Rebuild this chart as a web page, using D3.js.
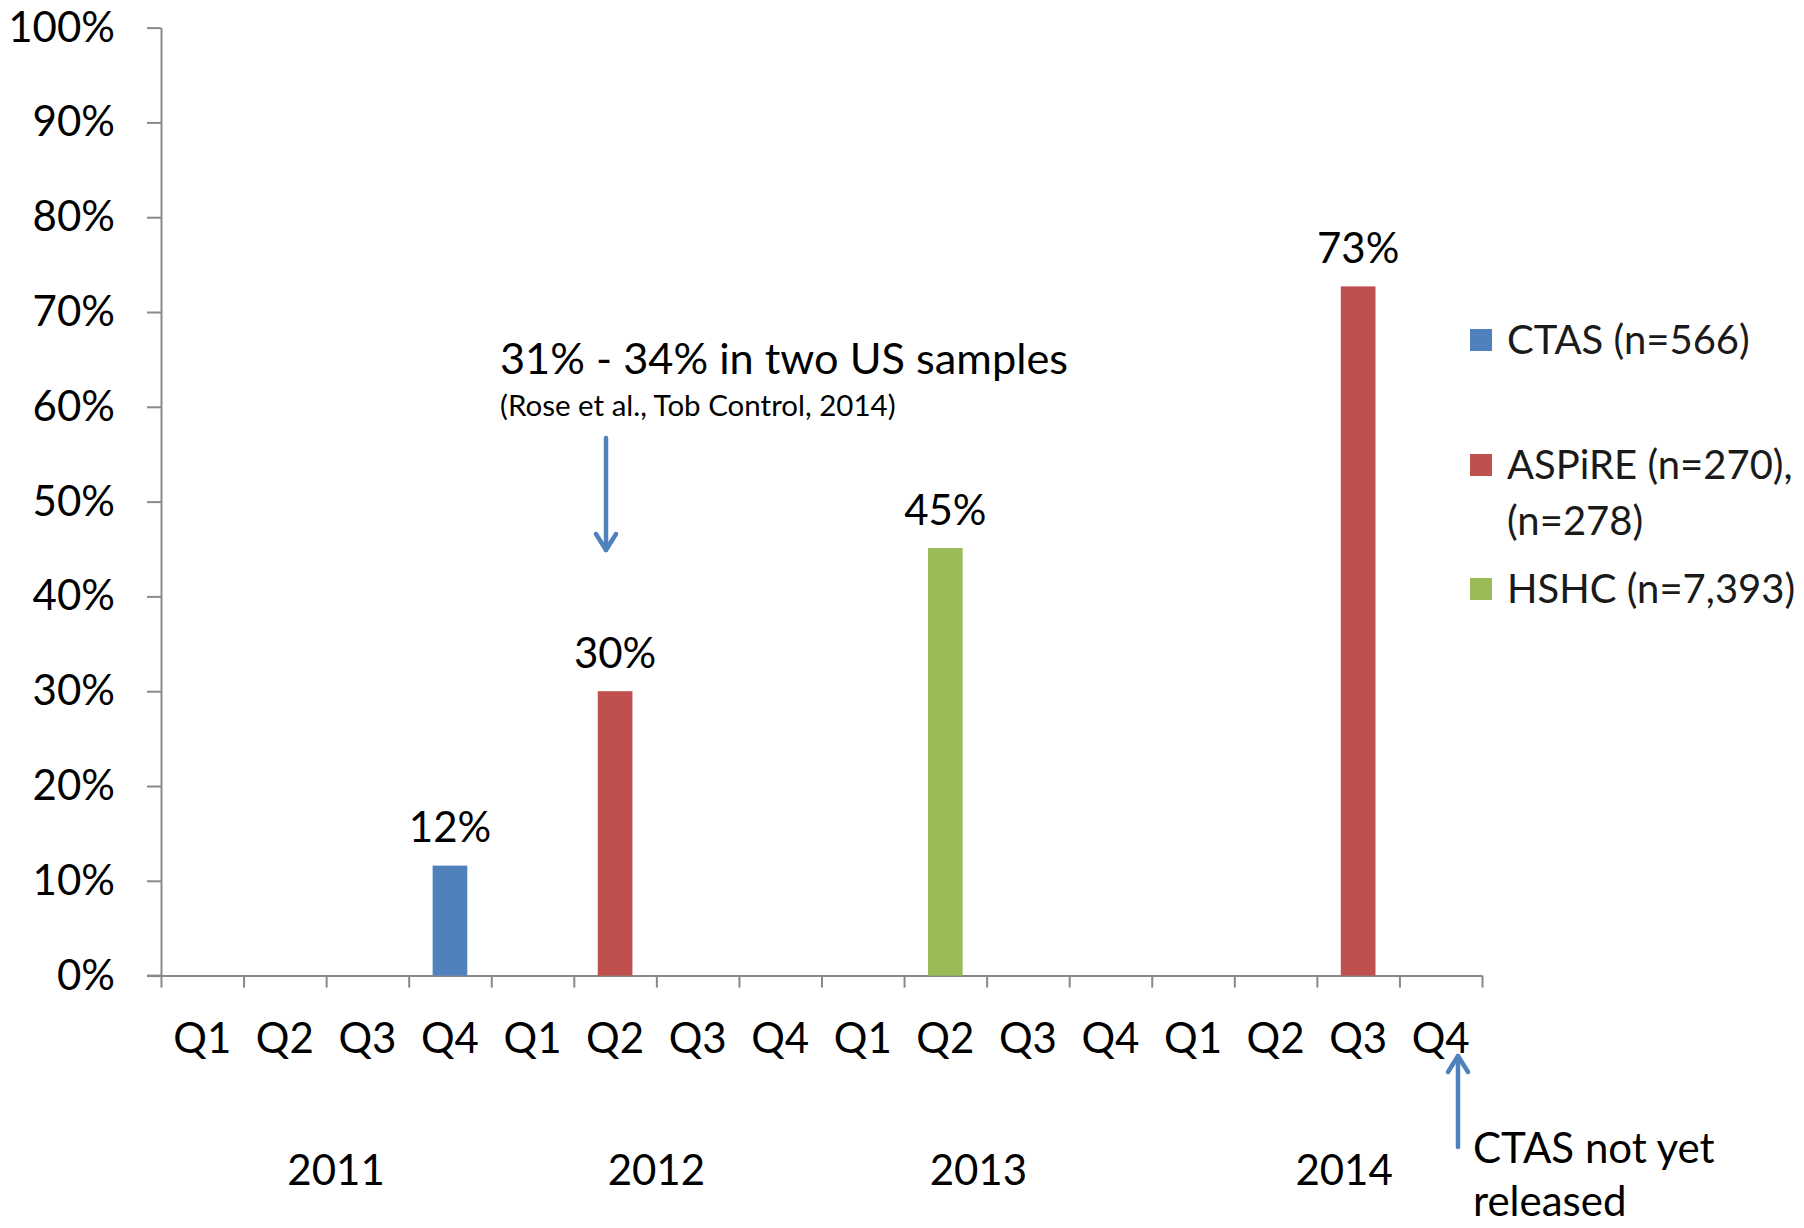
<!DOCTYPE html>
<html>
<head>
<meta charset="utf-8">
<script src="https://cdn.jsdelivr.net/npm/d3@7"></script>
<style>
  html, body { margin: 0; padding: 0; background: #fff; }
  svg { display: block; font-family: Lato, "Open Sans", sans-serif; }
</style>
</head>
<body>
<svg id="chart" width="1804" height="1228"></svg>
<script>
// Quarters along the x axis, grouped by year
const quarters = ["Q1","Q2","Q3","Q4","Q1","Q2","Q3","Q4","Q1","Q2","Q3","Q4","Q1","Q2","Q3","Q4"];
const years = ["2011","2012","2013","2014"];

// Survey series: name, quarter index, share of respondents
const seriesNames = ["CTAS (n=566)", "ASPiRE (n=270), (n=278)", "HSHC (n=7,393)"];
const seriesColors = ["#4F81BD", "#C0504D", "#9BBB59"];
const legendLines = [["CTAS (n=566)"], ["ASPiRE (n=270),", "(n=278)"], ["HSHC (n=7,393)"]];

const barSeries = [0, 1, 2, 1];
const barQuarter = [3, 5, 9, 14];
const barValues = [0.116, 0.30, 0.451, 0.727];

const yTicks = [0, 0.1, 0.2, 0.3, 0.4, 0.5, 0.6, 0.7, 0.8, 0.9, 1.0];

const noteMain = "31% - 34% in two US samples";
const noteSource = "(Rose et al., Tob Control, 2014)";
const noteCtas = ["CTAS not yet", "released"];

const svg = d3.select("#chart");
const plotLeft = 161, plotRight = 1482, plotTop = 27.6, plotBottom = 975.6;
const axisColor = "#898989";
const fs = 42;

const x = d3.scaleLinear().domain([0, quarters.length]).range([plotLeft, plotRight]);
const y = d3.scaleLinear().domain([0, 1]).range([plotBottom, plotTop]);
const step = x(1) - x(0);
const barW = step * 0.42;

// y axis
const yAxis = svg.append("g")
  .attr("transform", `translate(${plotLeft},0)`)
  .call(d3.axisLeft(y).tickValues(yTicks).tickFormat(d3.format(".0%"))
    .tickSize(14).tickSizeOuter(0).tickPadding(32));
yAxis.select(".domain").attr("stroke", axisColor).attr("stroke-width", 2);
yAxis.selectAll(".tick line").attr("stroke", axisColor).attr("stroke-width", 2);
yAxis.selectAll(".tick text").attr("font-size", fs).attr("fill", "#000")
  .attr("font-family", "Lato, sans-serif");

// x axis: ticks on the quarter boundaries
const xAxis = svg.append("g")
  .attr("transform", `translate(0,${plotBottom})`)
  .call(d3.axisBottom(x).tickValues(d3.range(0, quarters.length + 1))
    .tickFormat("").tickSize(12).tickSizeOuter(0));
xAxis.select(".domain").attr("stroke", axisColor).attr("stroke-width", 2);
xAxis.selectAll(".tick line").attr("stroke", axisColor).attr("stroke-width", 2);
svg.append("line")
  .attr("x1", plotLeft - 14).attr("x2", plotLeft)
  .attr("y1", plotBottom).attr("y2", plotBottom)
  .attr("stroke", axisColor).attr("stroke-width", 2);

// quarter labels
svg.append("g").selectAll("text").data(quarters).join("text")
  .attr("x", (d, i) => x(i + 0.5))
  .attr("y", 1038)
  .attr("dy", "0.35em")
  .attr("text-anchor", "middle")
  .attr("font-size", fs)
  .text(d => d);

// year labels, centred under their four quarters
const yearNudge = [0.12, 0, -0.1, 0.33];
svg.append("g").selectAll("text").data(years).join("text")
  .attr("x", (d, i) => x(i * 4 + 2 + yearNudge[i]))
  .attr("y", 1170)
  .attr("dy", "0.35em")
  .attr("text-anchor", "middle")
  .attr("font-size", fs)
  .text(d => d);

// bars
const bars = barValues.map((v, i) => ({ v, q: barQuarter[i], s: barSeries[i] }));
svg.append("g").selectAll("rect").data(bars).join("rect")
  .attr("x", d => x(d.q + 0.5) - barW / 2)
  .attr("width", barW)
  .attr("y", d => y(d.v))
  .attr("height", d => y(0) - y(d.v))
  .attr("fill", d => seriesColors[d.s]);

// value labels
svg.append("g").selectAll("text").data(bars).join("text")
  .attr("x", d => x(d.q + 0.5))
  .attr("y", d => y(d.v) - 38)
  .attr("dy", "0.35em")
  .attr("text-anchor", "middle")
  .attr("font-size", fs)
  .text(d => d3.format(".0%")(d.v));

// legend
const legendY = [340, 465, 589];
const lg = svg.append("g");
legendLines.forEach((lines, i) => {
  lg.append("rect")
    .attr("x", 1470).attr("y", legendY[i] - 11)
    .attr("width", 22).attr("height", 22)
    .attr("fill", seriesColors[i]);
  lines.forEach((t, j) => {
    lg.append("text")
      .attr("x", 1507).attr("y", legendY[i] + j * 56)
      .attr("dy", "0.35em")
      .attr("font-size", 40)
      .attr("fill", "#1a1a1a")
      .text(t);
  });
});

// annotation for the US comparison
svg.append("text").attr("x", 500).attr("y", 359).attr("dy", "0.35em")
  .attr("font-size", 43.3).text(noteMain);
svg.append("text").attr("x", 500).attr("y", 406).attr("dy", "0.35em")
  .attr("font-size", 29.5).text(noteSource);

const arrowColor = "#4F81BD";
function arrow(x0, y0, y1) {
  const dir = y1 > y0 ? 1 : -1;
  const g = svg.append("g").attr("stroke", arrowColor).attr("stroke-width", 4.5)
    .attr("fill", "none").attr("stroke-linecap", "round").attr("stroke-linejoin", "round");
  g.append("line").attr("x1", x0).attr("x2", x0).attr("y1", y0).attr("y2", y1);
  g.append("path").attr("d", `M${x0 - 10},${y1 - dir * 16} L${x0},${y1} L${x0 + 10},${y1 - dir * 16}`);
}
arrow(606, 438, 550);
arrow(1458, 1147, 1056);

svg.append("g").selectAll("text").data(noteCtas).join("text")
  .attr("x", 1473)
  .attr("y", (d, i) => 1148 + i * 53)
  .attr("dy", "0.35em")
  .attr("font-size", fs)
  .text(d => d);
</script>
</body>
</html>
